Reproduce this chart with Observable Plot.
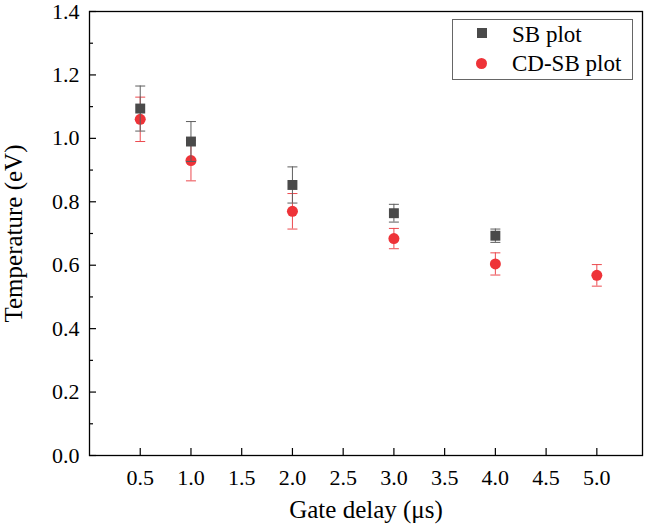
<!DOCTYPE html>
<html><head><meta charset="utf-8">
<script src="https://cdn.jsdelivr.net/npm/d3@7"></script>
<script src="https://cdn.jsdelivr.net/npm/@observablehq/plot@0.6"></script>
<style>
body{margin:0;background:#fff;}
#wrap{position:relative;width:645px;height:530px;font-family:"Liberation Serif","Times New Roman",serif;}
.legend{position:absolute;left:452px;top:19px;width:181px;height:61px;border:1px solid #666;box-sizing:border-box;}
.lg-item{position:absolute;font-size:23px;line-height:1;color:#000;white-space:nowrap;}
.mk{position:absolute;}
</style></head><body><div id="wrap"></div>
<script>
// Data
const sbDelay = [0.5, 1.0, 2.0, 3.0, 4.0];
const sbTemp  = [1.094, 0.990, 0.853, 0.764, 0.693];
const sbErr   = [0.071, 0.063, 0.057, 0.028, 0.021];
const cdDelay = [0.5, 1.0, 2.0, 3.0, 4.0, 5.0];
const cdTemp  = [1.060, 0.930, 0.770, 0.684, 0.604, 0.568];
const cdErr   = [0.070, 0.064, 0.056, 0.032, 0.035, 0.034];
const xTicks = [0.5, 1.0, 1.5, 2.0, 2.5, 3.0, 3.5, 4.0, 4.5, 5.0];
const yMajor = [0, 0.2, 0.4, 0.6, 0.8, 1.0, 1.2, 1.4];
const yMinor = [0.1, 0.3, 0.5, 0.7, 0.9, 1.1, 1.3];
const seriesNames = ["SB plot", "CD-SB plot"];

const sb = sbDelay.map((x, i) => ({x, t: sbTemp[i], e: sbErr[i]}));
const cd = cdDelay.map((x, i) => ({x, t: cdTemp[i], e: cdErr[i]}));

const W = 645, H = 530, mL = 89, mR = 3, mT = 11, mB = 75;
const pw = W - mL - mR, ph = H - mT - mB;
const capSymbol = {draw(ctx, size) { const w = Math.sqrt(size / Math.PI); ctx.moveTo(-w, 0); ctx.lineTo(w, 0); }};
const greyBar = "#5e5e5e", redBar = "#ec4a4f";
const greyFill = "#4a4a4a", redFill = "#ee3338";

const chart = Plot.plot({
  width: W, height: H,
  marginLeft: mL, marginRight: mR, marginTop: mT, marginBottom: mB,
  style: {fontFamily: "'Liberation Serif','Times New Roman',serif", color: "#000", background: "#fff", overflow: "visible"},
  x: {domain: [0, 5.45]},
  y: {domain: [0, 1.4]},
  marks: [
    // inward ticks
    Plot.tickX(xTicks, {x: d => d, insetTop: ph - 7, stroke: "#000", strokeWidth: 1.2}),
    Plot.tickY(yMajor, {y: d => d, insetRight: pw - 7, stroke: "#000", strokeWidth: 1.2}),
    Plot.tickY(yMinor, {y: d => d, insetRight: pw - 4, stroke: "#000", strokeWidth: 1.2}),
    Plot.axisX(xTicks, {tickSize: 0, tickPadding: 14, tickFormat: d3.format(".1f"), fontSize: 22, label: null}),
    Plot.axisY(yMajor, {tickSize: 0, tickPadding: 10, tickFormat: d3.format(".1f"), fontSize: 22, label: null}),
    Plot.text(["Gate delay (μs)"], {frameAnchor: "bottom", dy: 62, fontSize: 25, fill: "#000"}),
    Plot.text(["Temperature (eV)"], {frameAnchor: "left", textAnchor: "middle", rotate: -90, dx: -76, fontSize: 25, fill: "#000"}),
    // CD-SB series
    Plot.ruleX(cd, {x: "x", y1: d => d.t - d.e, y2: d => d.t + d.e, stroke: redBar, strokeWidth: 1}),
    Plot.dot(cd, {x: "x", y: d => d.t + d.e, symbol: capSymbol, r: 5, stroke: redBar, strokeWidth: 1}),
    Plot.dot(cd, {x: "x", y: d => d.t - d.e, symbol: capSymbol, r: 5, stroke: redBar, strokeWidth: 1}),
    Plot.dot(cd, {x: "x", y: "t", r: 5.5, fill: redFill, stroke: null}),
    // SB series
    Plot.ruleX(sb, {x: "x", y1: d => d.t - d.e, y2: d => d.t + d.e, stroke: greyBar, strokeWidth: 1}),
    Plot.dot(sb, {x: "x", y: d => d.t + d.e, symbol: capSymbol, r: 5, stroke: greyBar, strokeWidth: 1}),
    Plot.dot(sb, {x: "x", y: d => d.t - d.e, symbol: capSymbol, r: 5, stroke: greyBar, strokeWidth: 1}),
    Plot.dot(sb, {x: "x", y: "t", symbol: "square", r: 5.6, fill: greyFill, stroke: null}),
    Plot.frame({stroke: "#000", strokeWidth: 1.3})
  ]
});

const wrap = document.getElementById("wrap");
wrap.appendChild(chart);
const lg = document.createElement("div");
lg.className = "legend";
lg.innerHTML = `
  <div class="mk" style="left:24px;top:8px;width:10px;height:10px;background:${greyFill}"></div>
  <div class="lg-item" style="left:59px;top:3px">${seriesNames[0]}</div>
  <div class="mk" style="left:23px;top:38px;width:11px;height:11px;border-radius:50%;background:${redFill}"></div>
  <div class="lg-item" style="left:59px;top:32px">${seriesNames[1]}</div>`;
wrap.appendChild(lg);
</script></body></html>
